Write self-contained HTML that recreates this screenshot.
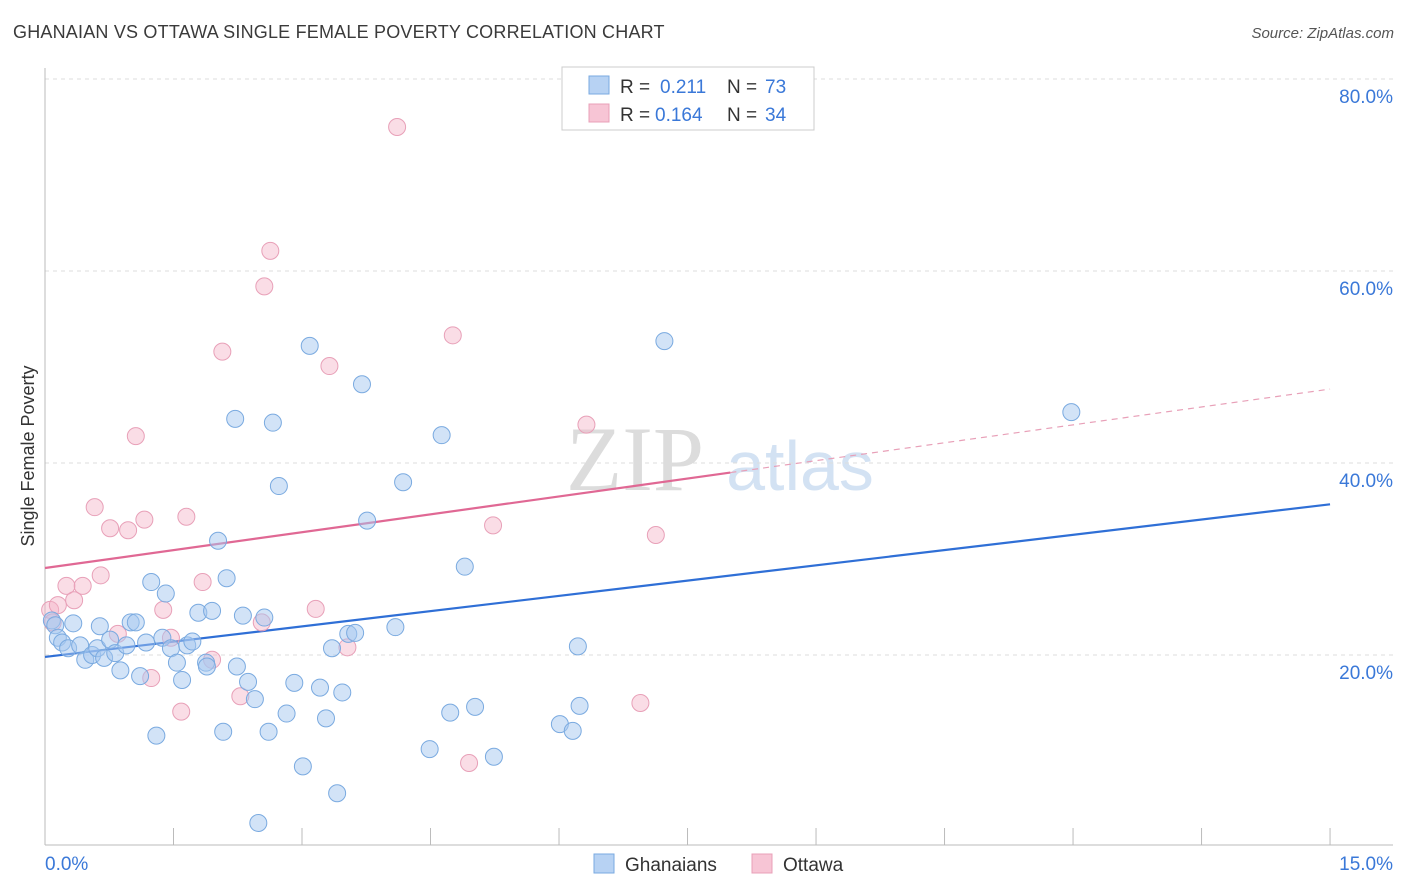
<!DOCTYPE html>
<html><head><meta charset="utf-8">
<style>
body{margin:0;background:#fff;font-family:"Liberation Sans",sans-serif;}
#wrap{position:relative;width:1406px;height:892px;overflow:hidden;}
.title{position:absolute;left:13px;top:22px;font-size:18px;color:#3a3a3a;letter-spacing:0.2px}
.source{position:absolute;right:12px;top:25px;font-size:15px;color:#555;font-style:italic}
</style></head><body>
<div id="wrap">
<div class="title">GHANAIAN VS OTTAWA SINGLE FEMALE POVERTY CORRELATION CHART</div>
<div class="source">Source: ZipAtlas.com</div>
<svg id="svg" width="1406" height="892" style="position:absolute;left:0;top:0">
<text x="635" y="490" font-family="Liberation Serif,serif" font-size="92" fill="#dcdcdc" text-anchor="middle">ZIP</text>
<text x="800" y="490" font-family="Liberation Sans,sans-serif" font-size="70" fill="#d3e2f3" text-anchor="middle">atlas</text>
<g id="grid"></g><g id="axes"></g><g id="lines"></g><g id="pts"></g>
<g>
<rect x="562" y="67" width="252" height="63" fill="#fff" stroke="#ccc"/>
<rect x="589" y="76" width="20" height="18" fill="#b7d2f3" stroke="#7aaae0"/>
<rect x="589" y="104" width="20" height="18" fill="#f7c5d5" stroke="#e8a0b8"/>
<text x="620" y="93" font-size="19" fill="#333">R = </text><text x="660" y="93" font-size="19" fill="#3a78d8">0.211</text>
<text x="727" y="93" font-size="19" fill="#333">N = </text><text x="765" y="93" font-size="19" fill="#3a78d8">73</text>
<text x="620" y="121" font-size="19" fill="#333">R = </text><text x="655" y="121" font-size="19" fill="#3a78d8">0.164</text>
<text x="727" y="121" font-size="19" fill="#333">N = </text><text x="765" y="121" font-size="19" fill="#3a78d8">34</text>
</g>
<g>
<rect x="594" y="854" width="20" height="19" fill="#b7d2f3" stroke="#7aaae0"/>
<text x="625" y="871" font-size="19" fill="#333">Ghanaians</text>
<rect x="752" y="854" width="20" height="19" fill="#f7c5d5" stroke="#e8a0b8"/>
<text x="783" y="871" font-size="19" fill="#333">Ottawa</text>
</g>
</svg>
</div>
<script>
const yTicks=[20,40,60,80];
const xTickLabels=["0.0%","15.0%"];
const blueX=[0.08,0.12,0.15,0.20,0.27,0.33,0.41,0.47,0.55,0.61,0.64,0.69,0.76,0.82,0.88,0.95,1.00,1.06,1.11,1.18,1.24,1.30,1.37,1.41,1.47,1.54,1.60,1.66,1.72,1.79,1.88,1.89,1.95,2.02,2.08,2.12,2.22,2.24,2.31,2.37,2.45,2.49,2.56,2.61,2.66,2.73,2.82,2.91,3.01,3.09,3.21,3.28,3.35,3.41,3.47,3.54,3.62,3.70,3.76,4.09,4.18,4.49,4.63,4.73,4.90,5.02,5.24,6.01,6.16,6.22,6.24,7.23,11.98];
const blueY=[23.6,23.1,21.8,21.3,20.7,23.3,21.0,19.5,20.0,20.7,23.0,19.7,21.6,20.2,18.4,21.0,23.4,23.4,17.8,21.3,27.6,11.6,21.8,26.4,20.7,19.2,17.4,21.0,21.4,24.4,19.2,18.8,24.6,31.9,12.0,28.0,44.6,18.8,24.1,17.2,15.4,2.5,23.9,12.0,44.2,37.6,13.9,17.1,8.4,52.2,16.6,13.4,20.7,5.6,16.1,22.2,22.3,48.2,34.0,22.9,38.0,10.2,42.9,14.0,29.2,14.6,9.4,12.8,12.1,20.9,14.7,52.7,45.3];
const pinkX=[0.06,0.09,0.15,0.25,0.34,0.44,0.58,0.65,0.76,0.85,0.97,1.06,1.16,1.24,1.38,1.47,1.59,1.65,1.84,1.95,2.07,2.28,2.53,2.56,2.63,3.16,3.32,3.53,4.11,4.76,4.95,5.23,6.32,6.95,7.13];
const pinkY=[24.7,23.4,25.2,27.2,25.7,27.2,35.4,28.3,33.2,22.2,33.0,42.8,34.1,17.6,24.7,21.8,14.1,34.4,27.6,19.5,51.6,15.7,23.4,58.4,62.1,24.8,50.1,20.8,75.0,53.3,8.75,33.5,44.0,15.0,32.5];
const blueTrend=[19.8,35.7];
const pinkTrend=[29.06,47.7];
const pinkSolidEnd=8.0;
const X=v=>45+v*85.67, Y=v=>847-v*9.6;
const NS="http://www.w3.org/2000/svg";
function mk(tag,attrs,parent){const e=document.createElementNS(NS,tag);for(const k in attrs)e.setAttribute(k,attrs[k]);document.getElementById(parent).appendChild(e);return e;}
yTicks.forEach(t=>{
 const l=mk('line',{x1:45,x2:1393,y1:Y(t),y2:Y(t),stroke:'#ddd','stroke-dasharray':'4,4'},'grid');
 
 
 const tx=mk('text',{x:1393,y:Y(t)+24,'text-anchor':'end','font-size':19,fill:'#3a78d8'},'grid');
 tx.textContent=t.toFixed(1)+'%';
 
 
});
const ax=mk('line',{x1:45,x2:1393,y1:845,y2:845,stroke:'#bbb'},'axes');


const ay=mk('line',{x1:45,x2:45,y1:68,y2:845,stroke:'#bbb'},'axes');


for(let i=0;i<=10;i++){const t=mk('line',{x1:X(i*1.5),x2:X(i*1.5),y1:828,y2:845,stroke:'#bbb'},'axes');
 
 }
const xl0=mk('text',{x:45,y:870,'font-size':19,fill:'#3a78d8'},'axes');xl0.textContent=xTickLabels[0];


const xl1=mk('text',{x:1393,y:870,'font-size':19,fill:'#3a78d8','text-anchor':'end'},'axes');xl1.textContent=xTickLabels[1];


const yt=mk('text',{x:0,y:0,'font-size':18,fill:'#333','text-anchor':'middle',transform:'translate(34,456) rotate(-90)'},'axes');yt.textContent='Single Female Poverty';


function pt(xs,ys,fill,stroke,name){xs.forEach((x,i)=>{const c=mk('circle',{cx:X(x),cy:Y(ys[i]),r:8.5,fill:fill,stroke:stroke,'stroke-width':1},'pts');
 
 });}
pt(pinkX,pinkY,'rgba(245,180,200,0.45)','#e8a0b8','ottawa-point');
pt(blueX,blueY,'rgba(165,200,240,0.5)','#7aaae0','ghanaian-point');
const bl=mk('line',{x1:X(0),y1:Y(blueTrend[0]),x2:X(15),y2:Y(blueTrend[1]),stroke:'#2f6fd6','stroke-width':2.2},'lines');


const pm=v=>pinkTrend[0]+(pinkTrend[1]-pinkTrend[0])*v/15;
const pl=mk('line',{x1:X(0),y1:Y(pm(0)),x2:X(pinkSolidEnd),y2:Y(pm(pinkSolidEnd)),stroke:'#e06894','stroke-width':2.2},'lines');


const pd=mk('line',{x1:X(pinkSolidEnd),y1:Y(pm(pinkSolidEnd)),x2:X(15),y2:Y(pm(15)),stroke:'#e8a0b8','stroke-width':1.2,'stroke-dasharray':'6,5'},'lines');


</script>
</body></html>
